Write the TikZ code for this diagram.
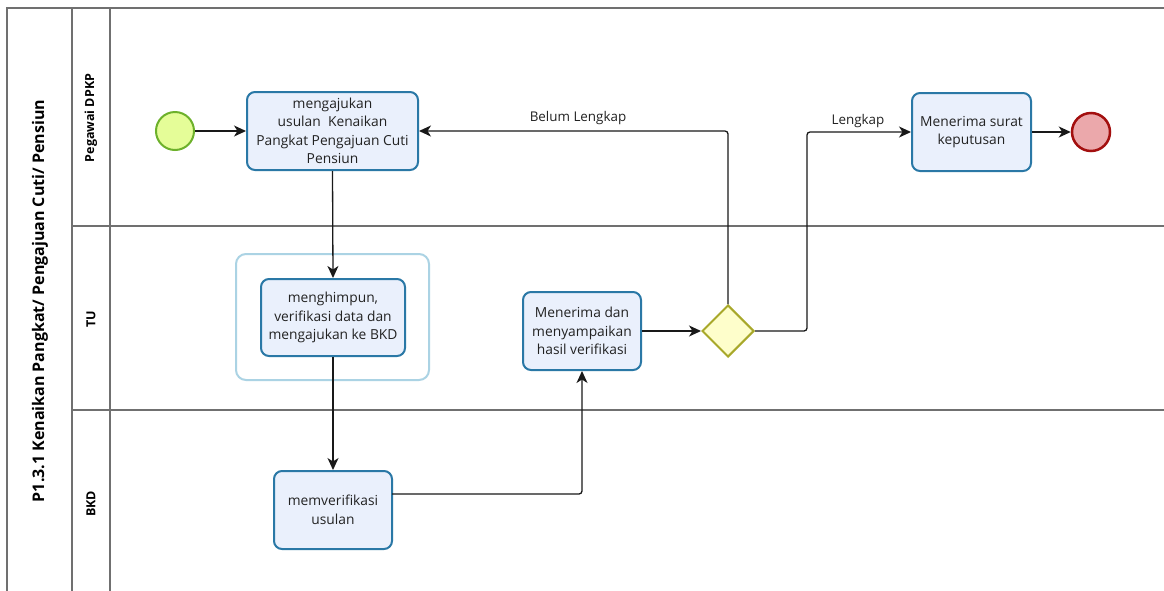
\documentclass[tikz,border=0pt]{standalone}
\usepackage{fontspec}
\setmainfont{Open Sans}
\usetikzlibrary{arrows.meta,shapes.geometric}

\definecolor{taskfill}{HTML}{EAF0FC}
\definecolor{taskline}{HTML}{2A78A6}
\definecolor{startfill}{HTML}{E5FD98}
\definecolor{startline}{HTML}{6DB12B}
\definecolor{endfill}{HTML}{EBA8AB}
\definecolor{endline}{HTML}{A30F0F}
\definecolor{gwfill}{HTML}{FEFECB}
\definecolor{gwline}{HTML}{A8A82A}
\definecolor{groupline}{HTML}{ABD3E4}
\definecolor{poolline}{HTML}{707070}
\definecolor{txt}{HTML}{222222}

\tikzset{
  task/.style={draw=taskline, fill=taskfill, line width=2pt, rounded corners=8pt,
    inner sep=0pt, align=center, text=txt,
    font=\fontsize{13.8}{18.5}\selectfont},
  startev/.style={circle, draw=startline, fill=startfill, line width=2pt,
    minimum size=38pt, inner sep=0pt},
  endev/.style={circle, draw=endline, fill=endfill, line width=2.5pt,
    minimum size=38pt, inner sep=0pt},
  gateway/.style={diamond, draw=gwline, fill=gwfill, line width=2pt,
    minimum width=52pt, minimum height=52pt, inner sep=0pt},
  grouprect/.style={draw=groupline, line width=2pt, rounded corners=10pt},
  poolrule/.style={draw=poolline, line width=1.5pt},
  flow/.style={draw=black!90, line width=1.3pt, rounded corners=3pt,
    -{Stealth[length=12pt,width=11pt,inset=3.5pt]}},
  flowlabel/.style={text=txt, font=\fontsize{13.4}{15}\selectfont, inner sep=0pt},
  lanelabel/.style={rotate=90, text=black, font=\bfseries\fontsize{12.5}{14}\selectfont},
  pooltitle/.style={rotate=90, text=black, font=\bfseries\fontsize{16}{19}\selectfont}
}

\begin{document}
\begin{tikzpicture}[x=1pt,y=-1pt]
  \useasboundingbox (0,0) rectangle (1164,590);
  \fill[white] (0,0) rectangle (1164,590);

  % pool frame and lanes
  \draw[poolrule] (7,600) -- (7,8) -- (1170,8);
  \draw[poolrule] (72,8) -- (72,600);
  \draw[poolrule] (110,8) -- (110,600);
  \draw[poolrule] (72,226) -- (1170,226);
  \draw[poolrule] (72,410) -- (1170,410);

  \node[pooltitle] (pool) at (40,301) {P1.3.1 Kenaikan Pangkat/ Pengajuan Cuti/ Pensiun};
  \node[lanelabel] (lane1) at (91,118) {Pegawai DPKP};
  \node[lanelabel] (lane2) at (91,319) {TU};
  \node[lanelabel] (lane3) at (91,504) {BKD};

  % group around the TU task
  \draw[grouprect] (236,254) rectangle (429,380);

  % events, tasks and gateway
  \node[startev] (start) at (175,131) {};
  \node[task, minimum width=171pt, minimum height=78pt] (t1) at (332.5,131)
    {mengajukan\\usulan\ \ Kenaikan\\Pangkat Pengajuan Cuti\\Pensiun};
  \node[task, minimum width=144pt, minimum height=77pt] (t2) at (333,317.5)
    {menghimpun,\\verifikasi data dan\\mengajukan ke BKD};
  \node[task, minimum width=118pt, minimum height=78pt] (t3) at (333,510)
    {memverifikasi\\usulan};
  \node[task, minimum width=118pt, minimum height=78pt] (t4) at (582,331)
    {Menerima dan\\menyampaikan\\hasil verifikasi};
  \node[gateway] (gw) at (728,331) {};
  \node[task, minimum width=119pt, minimum height=78pt] (t5) at (971.5,132)
    {Menerima surat\\keputusan};
  \node[endev] (end) at (1091,132) {};

  % sequence flows
  \coordinate (t3out) at (392,494);
  \coordinate (jog) at (807,331);
  \draw[flow] (start) -- (t1);
  \draw[flow] (t1.south) -- (t2.north);
  \draw[flow] (t2.south) -- (t3.north);
  \draw[flow] (t3out) -| (t4.south);
  \draw[flow] (t4) -- (gw);
  \draw[flow] (gw.north) |- (t1.east);
  \draw[flow] (gw.east) -- (jog) |- (t5.west);
  \draw[flow] (t5) -- (end);

  \node[flowlabel] (lbl1) at (578,118) {Belum Lengkap};
  \node[flowlabel] (lbl2) at (858,121) {Lengkap};
\end{tikzpicture}
\end{document}
